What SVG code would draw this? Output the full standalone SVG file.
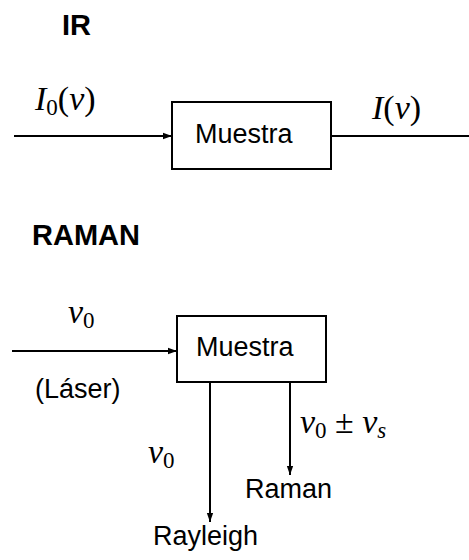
<svg xmlns="http://www.w3.org/2000/svg" width="469" height="560" viewBox="0 0 469 560">
<style>
.t{font-family:"Liberation Sans",Arial,sans-serif;font-size:27px;fill:#000}
.h{font-family:"Liberation Sans",Arial,sans-serif;font-size:29px;font-weight:bold;fill:#000}
.m{font-family:"Liberation Serif","Times New Roman",serif;font-size:34px;fill:#000}
.i{font-style:italic}
.s{font-size:23px}
.box{fill:#fff;stroke:#000;stroke-width:2}
.ln{fill:none;stroke:#000;stroke-width:2}
</style>
<defs>
<marker id="ah" viewBox="0 0 10 10" refX="10" refY="5" markerWidth="4.5" markerHeight="4.5" markerUnits="strokeWidth" orient="auto">
<path d="M0,1.5 L10,5 L0,8.5 Z" fill="#000"/>
</marker>
</defs>
<text class="h" x="62" y="35">IR</text>
<text class="h" x="32" y="245">RAMAN</text>
<g id="connectors">
<line class="ln" x1="14" y1="136" x2="172" y2="136" marker-end="url(#ah)"/>
<line class="ln" x1="331" y1="136" x2="469" y2="136"/>
<line class="ln" x1="12" y1="351" x2="177" y2="351" marker-end="url(#ah)"/>
<line class="ln" x1="210" y1="382" x2="210" y2="522" marker-end="url(#ah)"/>
<line class="ln" x1="290" y1="382" x2="290" y2="475" marker-end="url(#ah)"/>
</g>
<g id="muestra-ir">
<rect class="box" x="172" y="102" width="159" height="67"/>
<text class="t" x="195" y="143">Muestra</text>
</g>
<g id="muestra-raman">
<rect class="box" x="177" y="316" width="149" height="66"/>
<text class="t" x="196" y="356">Muestra</text>
</g>
<g id="labels">
<text class="m" x="35" y="110"><tspan class="i">I</tspan><tspan class="s" dy="5">0</tspan><tspan dy="-5">(</tspan><tspan class="i">ν</tspan>)</text>
<text class="m" x="372" y="119"><tspan class="i">I</tspan>(<tspan class="i">ν</tspan>)</text>
<text class="m" x="68" y="323"><tspan class="i">ν</tspan><tspan class="s" dy="5">0</tspan></text>
<text class="t" x="35" y="398">(Láser)</text>
<text class="m" x="148" y="463"><tspan class="i">ν</tspan><tspan class="s" dy="5">0</tspan></text>
<text class="m" x="300" y="433"><tspan class="i">ν</tspan><tspan class="s" dy="5">0</tspan><tspan dy="-5"> ± </tspan><tspan class="i">ν</tspan><tspan class="s i" dy="5">s</tspan></text>
<text class="t" x="245" y="498">Raman</text>
<text class="t" x="153" y="545">Rayleigh</text>
</g>
</svg>
